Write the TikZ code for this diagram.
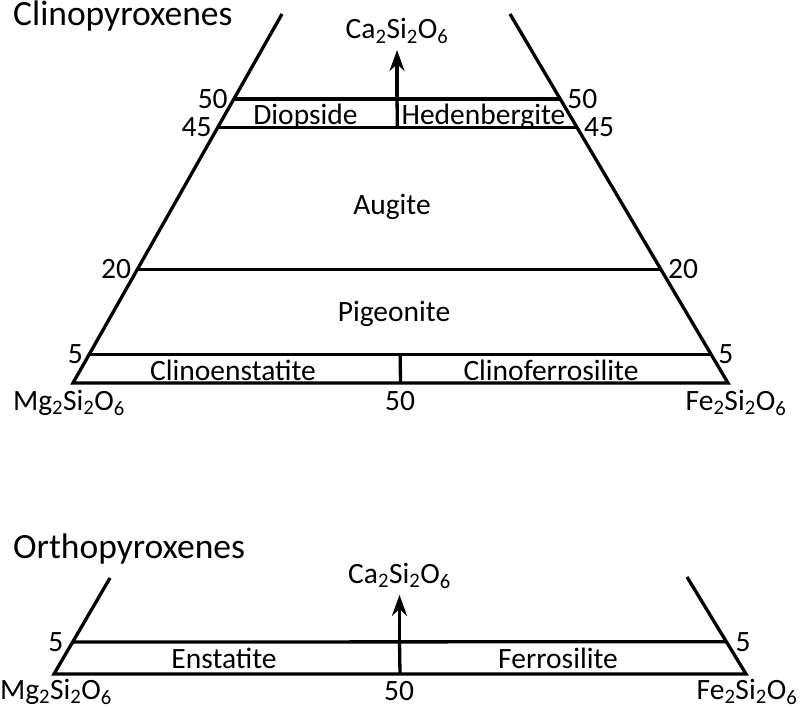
\documentclass[tikz,border=0pt]{standalone}
\usepackage{fontspec}
\setmainfont{Carlito}
\usepackage{tikz}
\usetikzlibrary{arrows.meta,positioning,calc}
\newcommand{\silicato}[1]{#1\textsubscript{2}Si\textsubscript{2}O\textsubscript{6}}
\tikzstyle{borde} = [line width=3.3pt, line join=miter]
\tikzstyle{flecha} = [line width=3.3pt, -{Stealth[length=21pt,width=15pt]}]
\tikzstyle{fase} = [inner sep=0pt, font=\fontsize{29.5}{34}\selectfont]
\tikzstyle{valor} = [fase]
\tikzstyle{titulo} = [inner sep=0pt, anchor=base west, font=\fontsize{35.5}{40}\selectfont]

\begin{document}
\begin{tikzpicture}[x=1pt,y=-1pt]
\useasboundingbox (0,0) rectangle (800,709);
% clinopyroxenes
\node[titulo] (clino) at (13,26) {Clinopyroxenes};
\coordinate (A) at (73,383);
\coordinate (B) at (728,383);
\coordinate (At) at (282,14);
\coordinate (Bt) at (510,14);
\draw[borde] (At) -- (A) -- (B) -- (Bt);
\foreach \ca in {5,20,45,50} {
  \coordinate (L\ca) at ($(A)!{\ca*5.68/369}!(At)$);
  \coordinate (R\ca) at ($(B)!{\ca*5.68/369}!(Bt)$);
  \draw[borde] (L\ca) -- (R\ca);
  \node[valor, anchor=east, xshift=-6pt] (nL\ca) at (L\ca) {\ca};
  \node[valor, anchor=west, xshift=7pt] (nR\ca) at (R\ca) {\ca};
}
\coordinate (M50) at ($(L50)!0.5!(R50)$);
\coordinate (M45) at ($(L45)!0.5!(R45)$);
\coordinate (M5) at ($(L5)!0.5!(R5)$);
\coordinate (M0) at ($(A)!0.5!(B)$);
\draw[borde] (M50) -- (M45);
\draw[borde] (M5) -- (M0);
\coordinate (punta) at ($(M50)+(0,-49)$);
\draw[flecha] (M50) -- (punta);
\node[fase, above=6pt of punta] (ca) {\silicato{Ca}};
\node[fase, anchor=base] (diop) at (305.5,124) {Diopside};
\node[fase, anchor=base] (hed) at (483.5,124) {Hedenbergite};
\node[fase, anchor=base] (aug) at (392,214) {Augite};
\node[fase, anchor=base] (pig) at (394,321) {Pigeonite};
\node[fase, anchor=base] (cen) at (233,380) {Clinoenstatite};
\node[fase, anchor=base] (cfs) at (551,380) {Clinoferrosilite};
\node[fase, anchor=base] (mg) at (69,410) {\silicato{Mg}};
\node[valor, anchor=base] (mitad) at (400,410) {50};
\node[fase, anchor=base] (fe) at (736,410) {\silicato{Fe}};

% orthopyroxenes
\node[titulo] (orto) at (13,558) {Orthopyroxenes};
\coordinate (C) at (54,674);
\coordinate (D) at (746,674);
\coordinate (Ct) at (110,578);
\coordinate (Dt) at (687,577);
\draw[borde] (Ct) -- (C) -- (D) -- (Dt);
\coordinate (P5) at ($(C)!0.333!(Ct)$);
\coordinate (Q5) at ($(D)!0.333!(Dt)$);
\draw[borde] (P5) -- (Q5);
\node[valor, anchor=east, xshift=-9pt] (nP5) at (P5) {5};
\node[valor, anchor=west, xshift=9pt] (nQ5) at (Q5) {5};
\coordinate (N5) at ($(P5)!0.5!(Q5)$);
\coordinate (N0) at ($(C)!0.5!(D)$);
\draw[borde] (N5) -- (N0);
\coordinate (punta2) at ($(N5)+(0,-47)$);
\draw[flecha] (N5) -- (punta2);
\node[fase, above=6pt of punta2] (ca2) {\silicato{Ca}};
\node[fase, anchor=base] (en) at (224,668) {Enstatite};
\node[fase, anchor=base] (fs) at (558,668) {Ferrosilite};
\node[fase, anchor=base] (mg2) at (56,699) {\silicato{Mg}};
\node[valor, anchor=base] (mitad2) at (399,700) {50};
\node[fase, anchor=base] (fe2) at (747,699) {\silicato{Fe}};
\end{tikzpicture}
\end{document}
